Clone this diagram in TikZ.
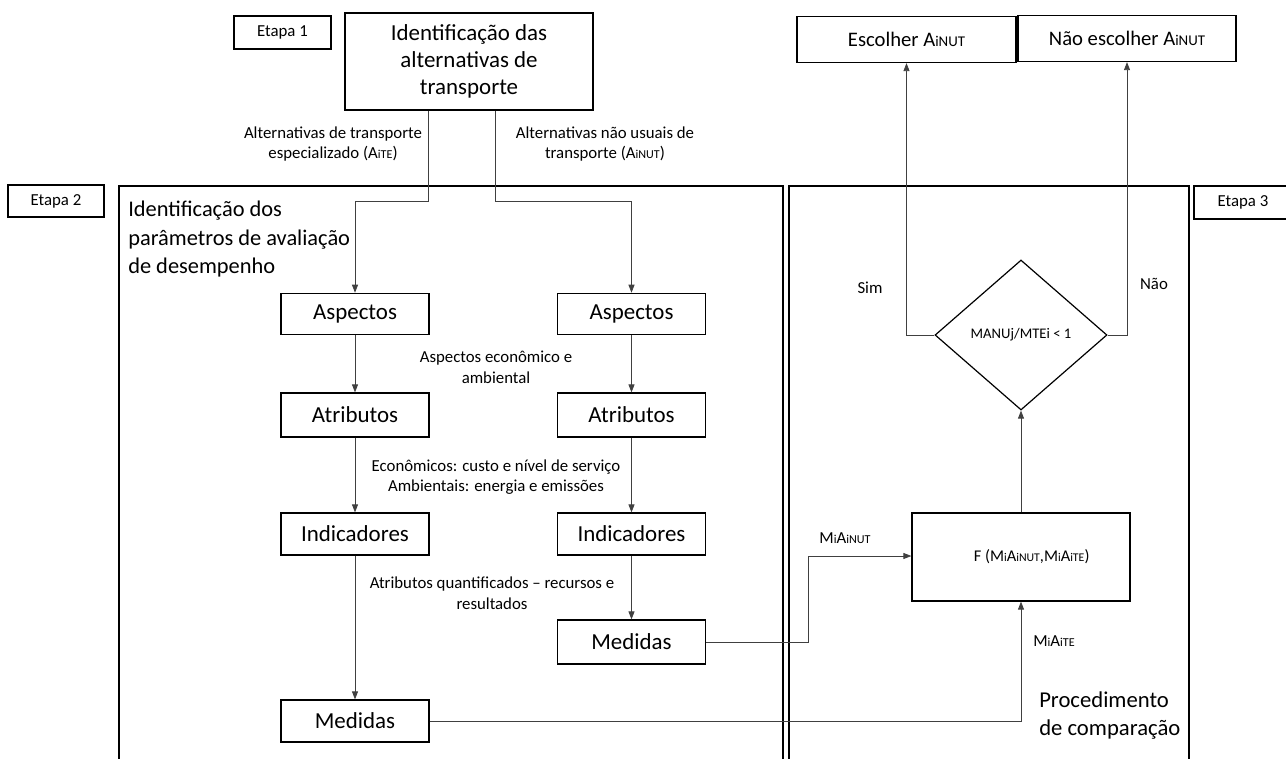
\documentclass[tikz,border=0pt]{standalone}
\usepackage{fontspec}
\setmainfont{Carlito}
\usepackage{graphicx}
\usetikzlibrary{arrows.meta,shapes.geometric}
\newcommand\lsm[1]{\scalebox{0.72}{#1}}
\begin{document}
\begin{tikzpicture}[x=0.75pt,y=-0.75pt,
  box/.style={draw=black,line width=0.9pt,inner sep=0pt,align=center},
  arr/.style={draw=black!75,line width=0.6pt,-{Triangle[length=6pt,width=4.5pt]}},
  ln/.style={draw=black!75,line width=0.6pt},
  frame/.style={draw=black,line width=0.9pt},
  big/.style={font=\fontsize{17.2pt}{20.25pt}\selectfont},
  med/.style={font=\fontsize{15.5pt}{18pt}\selectfont},
  sml/.style={font=\fontsize{12.6pt}{15.5pt}\selectfont},
  lbl/.style={sml,inner sep=0pt,align=center}]
\clip (0,0) rectangle (1286,758);
% stage labels
\node[box,sml,minimum width=72.75pt,minimum height=24.75pt] (e1) at (282.5,32.5) {Etapa 1};
\node[box,sml,minimum width=72pt,minimum height=24pt] (e2) at (56,201) {Etapa 2};
\node[box,sml,minimum width=73.5pt,minimum height=24.75pt] (e3) at (1243,202.5) {Etapa 3};
% top box
\node[box,big,minimum width=186pt,minimum height=72.75pt] (top) at (469,61.5) {Identificação das\\alternativas de\\transporte};
% frames
\draw[frame] (119,770) -- (119,186) -- (783,186) -- (783,770);
\draw[frame] (789,770) -- (789,186) -- (1189,186) -- (1189,770);
\node[anchor=north west,align=left,inner sep=0pt,font=\fontsize{16.8pt}{21.4pt}\selectfont] (t2) at (128,201) {Identificação dos\\parâmetros de avaliação\\de desempenho};
\node[anchor=north west,align=left,inner sep=0pt,font=\fontsize{17pt}{21pt}\selectfont] (t3) at (1039,691) {Procedimento\\de comparação};
% columns
\node[box,big,minimum width=111pt,minimum height=31pt] (asL) at (355,314) {Aspectos};
\node[box,big,minimum width=111pt,minimum height=31pt] (asR) at (631.5,314) {Aspectos};
\node[box,big,minimum width=111pt,minimum height=33pt] (atL) at (355,415) {Atributos};
\node[box,big,minimum width=111pt,minimum height=33pt] (atR) at (631.5,415) {Atributos};
\node[box,big,minimum width=111pt,minimum height=31.5pt] (inL) at (355,534) {Indicadores};
\node[box,big,minimum width=111pt,minimum height=31.5pt] (inR) at (631.5,534) {Indicadores};
\node[box,big,minimum width=111pt,minimum height=33pt] (meR) at (631.5,642) {Medidas};
\node[box,big,minimum width=111pt,minimum height=31.5pt] (meL) at (355,721) {Medidas};
% stage 3
\node[box,med,minimum width=164.25pt,minimum height=34.5pt] (esc) at (906.5,39.5) {Escolher A\lsm{iNUT}};
\node[box,med,minimum width=163.5pt,minimum height=34.5pt] (nao) at (1127,38.5) {Não escolher A\lsm{iNUT}};
\node[draw=black,line width=0.9pt,diamond,minimum width=129pt,minimum height=112.5pt,inner sep=0pt,font=\fontsize{11pt}{13pt}\selectfont] (d) at (1021,335) {MANUj/MTEi < 1};
\node[box,font=\fontsize{12.3pt}{15pt}\selectfont,minimum width=163.5pt,minimum height=66pt] (F) at (1021,557) {\hspace*{16pt}F (M\lsm{i}A\lsm{iNUT},M\lsm{i}A\lsm{iTE})};
% labels
\node[lbl] (l1) at (333,144) {Alternativas de transporte\\especializado (A\lsm{iTE})};
\node[lbl] (l2) at (605,144) {Alternativas não usuais de\\transporte (A\lsm{iNUT})};
\node[lbl] (l3) at (496,367) {Aspectos econômico e\\ambiental};
\node[lbl] (l4) at (496,477) {Econômicos: custo e nível de serviço\\Ambientais: energia e emissões};
\node[lbl] (l5) at (492,593) {Atributos quantificados – recursos e\\resultados};
\node[lbl] (l6) at (845,538) {M\lsm{i}A\lsm{iNUT}};
\node[lbl,anchor=west] (l7) at (1033,641) {M\lsm{i}A\lsm{iTE}};
\node[lbl] (sim) at (870,288) {Sim};
\node[lbl] (nao2) at (1154,284) {Não};
% connectors
\coordinate (bL) at (428,201);
\coordinate (bR) at (495,201);
\draw[arr] (top.south -| bL) -- (bL) -| (asL.north);
\draw[arr] (top.south -| bR) -- (bR) -| (asR.north);
\draw[arr] (asL) -- (atL);
\draw[arr] (atL) -- (inL);
\draw[arr] (inL) -- (meL);
\draw[arr] (asR) -- (atR);
\draw[arr] (atR) -- (inR);
\draw[arr] (inR) -- (meR);
\coordinate (kR) at (808,556);
\draw[arr] (meR.east) -| (kR) -- (F.west |- kR);
\draw[arr] (meL.east) -| (F.south);
\draw[arr] (F.north) -- (d.south);
\draw[arr] (d.west) -| (esc.south);
\draw[arr] (d.east) -| (nao.south);
\end{tikzpicture}
\end{document}
